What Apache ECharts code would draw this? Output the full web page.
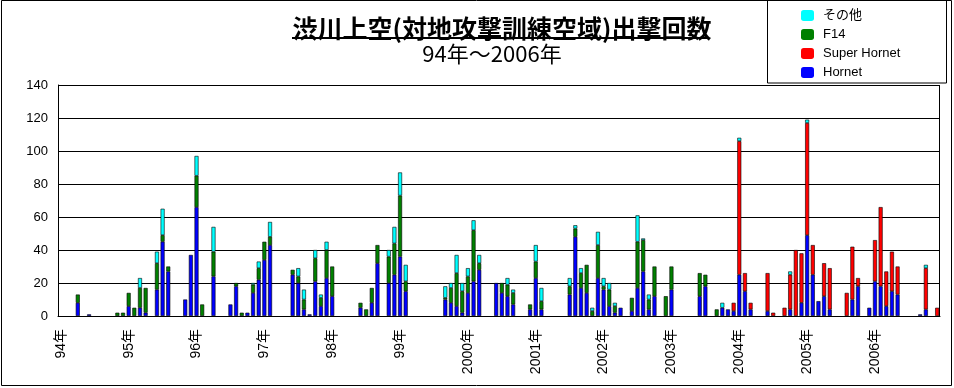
<!DOCTYPE html>
<html><head><meta charset="utf-8">
<script src="https://cdn.jsdelivr.net/npm/echarts@6/dist/echarts.min.js"></script>
<style>html,body{margin:0;padding:0;background:#fff}#c{width:954px;height:388px}</style>
</head><body><div id="c"></div>
<script>
const yearLabels = ['94年','95年','96年','97年','98年','99年','2000年','2001年','2002年','2003年','2004年','2005年','2006年'];
const yTicks = [0,20,40,60,80,100,120,140];
const seriesNames = ['Hornet','Super Hornet','F14','その他'];
// monthly values, one row per year (Jan..Dec)
const hornet = [
 0,0,0,8,0,1,0,0,0,0,0,0,
 6,0,5,2,0,16,45,27,0,0,10,37,
 66,0,0,24,0,0,7,18,0,2,14,22,
 34,43,0,0,0,25,20,4,1,21,6,23,
 12,0,0,0,0,5,0,8,32,0,20,25,
 36,15,0,0,0,0,0,0,10,8,6,2,
 14,21,28,0,0,20,14,12,7,0,0,4,
 23,4,0,0,0,0,13,48,17,14,0,23,
 16,6,2,5,0,3,17,27,4,12,0,0,
 16,0,0,0,0,12,18,0,0,5,4,3,
 25,15,4,0,0,3,0,0,0,4,0,8,
 49,25,9,12,4,0,0,0,10,18,0,5,
 21,18,6,15,13,0,0,0,1,4,0,0
];
const superHornet = [
 0,0,0,0,0,0,0,0,0,0,0,0,
 0,0,0,0,0,0,0,0,0,0,0,0,
 0,0,0,0,0,0,0,0,0,0,0,0,
 0,0,0,0,0,0,0,0,0,0,0,0,
 0,0,0,0,0,0,0,0,0,0,0,0,
 0,0,0,0,0,0,0,0,0,0,0,0,
 0,0,0,0,0,0,0,0,0,0,0,0,
 0,0,0,0,0,0,0,0,0,0,0,0,
 0,0,0,0,0,0,0,0,0,0,0,0,
 0,0,0,0,0,0,0,0,0,0,0,5,
 81,11,4,0,0,23,2,0,5,21,40,30,
 68,18,0,20,25,0,0,14,32,5,0,0,
 25,48,21,24,17,0,0,0,0,25,0,5
];
const f14 = [
 0,0,0,5,0,0,0,0,0,0,2,2,
 8,5,12,15,0,16,4,3,0,0,0,0,
 19,7,0,15,0,0,0,2,2,0,5,7,
 11,5,0,0,0,3,4,6,0,14,5,17,
 18,0,0,0,0,3,4,9,11,0,16,19,
 37,6,0,0,0,0,0,0,1,9,20,13,
 10,31,4,0,0,0,6,7,7,0,0,3,
 10,5,0,0,0,0,5,5,9,17,3,20,
 2,10,4,0,0,8,28,19,6,18,0,12,
 14,0,0,0,0,14,7,0,4,0,0,0,
 0,0,0,0,0,0,0,0,0,0,0,0,
 0,0,0,0,0,0,0,0,0,0,0,0,
 0,0,0,0,0,0,0,0,0,0,0,0
];
const other = [
 0,0,0,0,0,0,0,0,0,0,0,0,
 0,0,6,0,0,7,16,0,0,0,0,0,
 12,0,0,15,0,0,0,0,0,0,1,4,
 0,9,0,0,0,0,5,6,0,5,2,5,
 0,0,0,0,0,0,0,0,0,0,4,10,
 14,10,0,0,0,0,0,0,7,3,11,5,
 5,6,5,0,0,0,0,4,2,0,0,0,
 10,8,0,0,0,0,5,2,3,0,2,8,
 5,4,2,0,0,0,16,1,3,0,0,0,
 0,0,0,0,0,0,0,0,0,3,0,0,
 2,0,0,0,0,0,0,0,0,2,0,0,
 2,0,0,0,0,0,0,0,0,0,0,0,
 0,0,0,0,0,0,0,0,0,2,0,0
];
const colors = {'Hornet':'#0000ff','Super Hornet':'#ff0000','F14':'#008000','その他':'#00ffff'};

const categories = yearLabels.flatMap(y => Array.from({length:12}, (_, m) => y + '|' + (m + 1)));
const clean = arr => arr.map(v => v === 0 ? '-' : v);
const dataMap = {'Hornet': hornet, 'Super Hornet': superHornet, 'F14': f14, 'その他': other};

const chart = echarts.init(document.getElementById('c'), null, {renderer:'canvas'});
const font = 'Liberation Sans, Noto Sans CJK JP, sans-serif';
chart.setOption({
  animation: false,
  backgroundColor: '#fff',
  title: [
    {text: '渋川上空(対地攻撃訓練空域)出撃回数', left: 497, textAlign: 'center', top: 11,
     textStyle: {fontSize: 25, fontWeight: 'bold', color: '#000', fontFamily: 'Noto Sans CJK JP'}},
    {text: '94年～2006年', left: 487, textAlign: 'center', top: 38,
     textStyle: {fontSize: 22, fontWeight: 'normal', color: '#000', fontFamily: 'Noto Sans CJK JP'}}
  ],
  legend: {
    orient: 'vertical', left: 801, top: 9, padding: 0, itemWidth: 13, itemHeight: 11, itemGap: 6,
    data: ['その他','F14','Super Hornet','Hornet'],
    textStyle: {fontSize: 13, color: '#000', fontFamily: font, padding: [0,0,0,4]},
    itemStyle: {borderWidth: 0}
  },
  grid: {left: 58, right: 14, top: 85, bottom: 72, containLabel: false},
  xAxis: {
    type: 'category', data: categories, boundaryGap: true,
    axisLine: {lineStyle: {color: '#000', width: 1}},
    axisTick: {show: false},
    axisLabel: {interval: 11, rotate: 90, margin: 13, fontSize: 14, color: '#000', fontFamily: font,
      formatter: v => v.split('|')[0]}
  },
  yAxis: {
    type: 'value', min: yTicks[0], max: yTicks[yTicks.length - 1], interval: 20,
    axisLine: {show: true, lineStyle: {color: '#000', width: 1}},
    axisTick: {show: false},
    splitLine: {lineStyle: {color: '#000', width: 1}},
    axisLabel: {margin: 10, fontSize: 13, color: '#000', fontFamily: font}
  },
  series: seriesNames.map(n => ({
    name: n, type: 'bar', stack: 'total', barWidth: 4,
    data: clean(dataMap[n]),
    itemStyle: {color: colors[n], borderColor: '#000', borderWidth: 0.6}
  })),
  graphic: [
    {type: 'rect', shape: {x: 1.5, y: 0.5, width: 950, height: 385}, style: {fill: 'none', stroke: '#000', lineWidth: 1}, silent: true, z: 100},
    {type: 'rect', shape: {x: 767.5, y: -1, width: 179, height: 84}, style: {fill: 'none', stroke: '#000', lineWidth: 1}, silent: true, z: 100},
    {type: 'rect', shape: {x: 939.5, y: 85, width: 0, height: 231}, style: {fill: 'none', stroke: '#000', lineWidth: 1}, silent: true, z: 100},
    {type: 'line', shape: {x1: 292, y1: 38, x2: 708, y2: 38}, style: {stroke: '#000', lineWidth: 2}, silent: true, z: 100}
  ]
});
</script></body></html>
